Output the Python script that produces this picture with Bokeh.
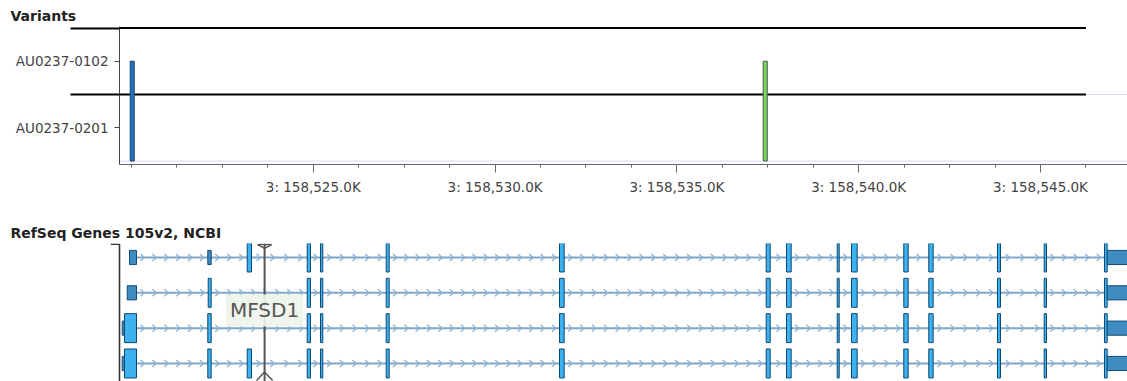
import numpy as np
import pandas as pd
from bokeh.plotting import figure
from bokeh.layouts import column
from bokeh.models import Range1d, FixedTicker, CustomJSTickFormatter, ColumnDataSource
from bokeh.core.properties import value
from bokeh.embed import file_html
from bokeh.resources import INLINE

# ---------------- data ----------------
CHROM = "3"
VIEW_START = 158519670
VIEW_END = 158547393
TRACK_END = 158546250
MAJOR_STEP, MINOR_STEP = 5000, 1250

samples = ["AU0237-0102", "AU0237-0201"]          # top to bottom
variant_pos = [158520020, 158537430]
variant_fill = ["#1f72c2", "#74dc5e"]
variant_line = ["#1c3f63", "#4a544a"]

gene_name = "MFSD1"
gene_label_pos = 158523660

# exons common to every transcript
shared_exon_starts = [158524832, 158525198, 158527005, 158531771, 158537456, 158538014, 158539409,
                      158539802, 158541240, 158541928, 158543817, 158545102, 158546760]
shared_exon_ends = [158524923, 158525261, 158527087, 158531900, 158537566, 158538143, 158539464,
                    158539958, 158541361, 158542048, 158543900, 158545165, 158546834]
utr3_start, utr3_end = 158546834, 158547900

# transcript-specific 5' blocks
tx_5p_starts = [[158519945, 158522098, 158523182],
                [158519882, 158522110],
                [158519744, 158519807, 158522098],
                [158519744, 158519807, 158522098, 158523182]]
tx_5p_ends = [[158520138, 158522192, 158523300],
              [158520138, 158522192],
              [158519807, 158520138, 158522192],
              [158519807, 158520138, 158522192, 158523300]]
tx_5p_kinds = [["utr", "utr", "cds"],
               ["utr", "cds"],
               ["utr", "cds", "cds"],
               ["utr", "cds", "cds", "cds"]]

# ---------------- styling ----------------
FONT = "DejaVu Sans"
FRAME_LEFT = 119
FRAME_W = 1127 - FRAME_LEFT
BP_PER_PX = (VIEW_END - VIEW_START) / FRAME_W
CDS_H, UTR_H = 0.82, 0.40
KIND_FILL = {"cds": "#3cb2f0", "utr": "#3f8cc2"}
KIND_LINE = {"cds": "#0e4670", "utr": "#174a72"}
CHEVRON_STEP = 11.3 * BP_PER_PX
CHEVRON_HW = 2.0 * BP_PER_PX
CHEVRON_HH = 0.10
SEP_REACH = 49          # how far the row separators run left of the axis, px
LABEL_TICK = 5

xr = Range1d(VIEW_START, VIEW_END)

# ================= variants track =================
n = len(samples)
pA = figure(width=1127, height=205, x_range=xr, y_range=Range1d(-0.0526, n + 0.0226),
            output_backend="svg", toolbar_location=None, title="Variants",
            min_border_left=FRAME_LEFT, min_border_right=0, min_border_top=26, min_border_bottom=41)
pA.frame_align = False
pA.outline_line_color = None
pA.grid.visible = False
pA.title.text_font = FONT
pA.title.text_font_size = "14px"
pA.title.text_font_style = "bold"
pA.title.text_color = "#222222"
pA.title.offset = -109
pA.title.standoff = 5

# faint frame lines
pA.segment(x0=[VIEW_START, TRACK_END], x1=[VIEW_END, VIEW_END], y0=[0, 1], y1=[0, 1],
           line_color="#dcdcf4", line_width=1)

# row separators
sep_y = [float(n - i) for i in range(n)]
pA.segment(x0=[VIEW_START] * n, x1=[TRACK_END] * n, y0=sep_y, y1=sep_y,
           line_color="black", line_width=2)

# variant bars spanning from the top sample's row down through the rest
vsrc = ColumnDataSource(dict(x=variant_pos, y=[(n - 0.5) / 2] * len(variant_pos),
                             h=[n - 0.5] * len(variant_pos), fill=variant_fill, line=variant_line))
pA.rect(x="x", y="y", width=4, width_units="screen", height="h", source=vsrc,
        fill_color="fill", line_color="line", line_width=1)

# sample labels on row centres; long minor ticks carry the separators past the axis
pA.yaxis.ticker = FixedTicker(ticks=[n - 0.5 - i for i in range(n)], minor_ticks=sep_y)
pA.yaxis.major_label_overrides = {n - 0.5 - i: s for i, s in enumerate(samples)}
pA.yaxis.minor_tick_out = SEP_REACH
pA.yaxis.minor_tick_in = 0
pA.yaxis.minor_tick_line_color = "black"
pA.yaxis.minor_tick_line_width = 2
pA.yaxis.major_tick_out = LABEL_TICK
pA.yaxis.major_tick_in = 0
pA.yaxis.axis_line_color = "#444444"
pA.yaxis.major_tick_line_color = "#444444"
pA.yaxis.major_label_text_font = FONT
pA.yaxis.major_label_text_font_size = "13.5px"
pA.yaxis.major_label_text_color = "#444444"
pA.yaxis.major_label_standoff = -(SEP_REACH - LABEL_TICK - 6)

# labelled ticks every 5 kb (the leftmost one stays unlabelled), minor every 1.25 kb
first_major = int(np.ceil(VIEW_START / MAJOR_STEP) * MAJOR_STEP)
labelled = list(range(first_major + MAJOR_STEP, VIEW_END, MAJOR_STEP))
minor = list(range(first_major, VIEW_END, MINOR_STEP))
pA.xaxis.ticker = FixedTicker(ticks=labelled, minor_ticks=minor)
pA.xaxis.formatter = CustomJSTickFormatter(args=dict(chrom=CHROM), code="""
    const k = tick / 1000;
    return chrom + ": " + k.toLocaleString("en-US", {minimumFractionDigits: 1, maximumFractionDigits: 1}) + "K";
""")
pA.xaxis.major_tick_out = 8
pA.xaxis.major_tick_in = 0
pA.xaxis.minor_tick_out = 3
pA.xaxis.minor_tick_in = 0
pA.xaxis.axis_line_color = "#666666"
pA.xaxis.major_tick_line_color = "#666666"
pA.xaxis.minor_tick_line_color = "#666666"
pA.xaxis.major_label_text_font = FONT
pA.xaxis.major_label_text_font_size = "13.5px"
pA.xaxis.major_label_text_color = "#444444"
pA.xaxis.major_label_standoff = 6

# ================= gene track =================
BRACKET_PX = 9
xrB = Range1d(VIEW_START - BRACKET_PX * BP_PER_PX, VIEW_END)
ROW_TOP, ROW_BOTTOM = -0.396, 3.51
pB = figure(width=1127, height=176, x_range=xrB, y_range=Range1d(ROW_BOTTOM, ROW_TOP),
            output_backend="svg", toolbar_location=None, title="RefSeq Genes 105v2, NCBI",
            x_axis_location=None, y_axis_location=None,
            min_border_left=FRAME_LEFT - BRACKET_PX, min_border_right=0,
            min_border_top=38, min_border_bottom=0)
pB.frame_align = False
pB.outline_line_color = None
pB.grid.visible = False
pB.title.text_font = FONT
pB.title.text_font_size = "14px"
pB.title.text_font_style = "bold"
pB.title.text_color = "#222222"
pB.title.offset = -(FRAME_LEFT - BRACKET_PX - 10)
pB.title.standoff = 6

# group bracket on the left of the transcripts
bx0 = xrB.start
pB.multi_line(xs=[[bx0, VIEW_START, VIEW_START]],
              ys=[[ROW_TOP + 0.02, ROW_TOP + 0.02, ROW_BOTTOM]],
              line_color="#333333", line_width=1.6)

blocks = []
for row in range(len(tx_5p_starts)):
    starts = tx_5p_starts[row] + shared_exon_starts + [utr3_start]
    ends = tx_5p_ends[row] + shared_exon_ends + [utr3_end]
    kinds = tx_5p_kinds[row] + ["cds"] * len(shared_exon_starts) + ["utr"]
    for s, e, k in zip(starts, ends, kinds):
        blocks.append(dict(row=row, start=s, end=e, kind=k))
bdf = pd.DataFrame(blocks)
bdf["x"] = (bdf.start + bdf.end) / 2
bdf["w"] = bdf.end - bdf.start
bdf["h"] = np.where(bdf.kind == "cds", CDS_H, UTR_H)
bdf["fill"] = bdf.kind.map(KIND_FILL)
bdf["line"] = bdf.kind.map(KIND_LINE)

# intron backbone and strand chevrons
bb_x0, bb_x1, bb_y = [], [], []
chev_xs, chev_ys = [], []
for row, g in bdf.groupby("row"):
    g = g.sort_values("start")
    bb_x0.append(g.start.min()); bb_x1.append(g.end.max()); bb_y.append(row)
    s = g.start.to_numpy(); e = g.end.to_numpy()
    for a, b in zip(e[:-1], s[1:]):
        gap = b - a
        if gap <= 0:
            continue
        k = max(1, int(gap // CHEVRON_STEP))
        for j in range(k):
            c = a + gap * (j + 0.5) / k
            chev_xs.append([c - CHEVRON_HW, c + CHEVRON_HW, c - CHEVRON_HW])
            chev_ys.append([row - CHEVRON_HH, row, row + CHEVRON_HH])

pB.segment(x0=bb_x0, x1=bb_x1, y0=bb_y, y1=bb_y, line_color="#7ea7c9", line_width=2)
pB.multi_line(xs=chev_xs, ys=chev_ys, line_color="#8fb3d0", line_width=1.3)
pB.rect(x="x", y="row", width="w", height="h", source=ColumnDataSource(bdf),
        fill_color="fill", line_color="line", line_width=1)

# gene name marker
cap = 7 * BP_PER_PX
top_y = ROW_TOP + 0.03
bot_y = ROW_BOTTOM - 0.03
pB.segment(x0=[gene_label_pos], x1=[gene_label_pos], y0=[ROW_TOP], y1=[ROW_BOTTOM],
           line_color="#555555", line_width=2)
pB.multi_line(xs=[[gene_label_pos - cap, gene_label_pos + cap],
                  [gene_label_pos - cap, gene_label_pos, gene_label_pos + cap],
                  [gene_label_pos - 8 * BP_PER_PX, gene_label_pos, gene_label_pos + 8 * BP_PER_PX]],
              ys=[[top_y, top_y],
                  [top_y, top_y + 0.11, top_y],
                  [bot_y, bot_y - 0.24, bot_y]],
              line_color="#555555", line_width=1.5)
pB.text(x=[gene_label_pos], y=[1.5], text=[gene_name], text_align="center",
        text_baseline="middle", text_font=value(FONT), text_font_size="20px",
        text_color="#555555", background_fill_color="#eef3ea", background_fill_alpha=0.92,
        padding=4)

layout = column(pA, pB, spacing=0)
open("out.html", "w").write(file_html(layout, INLINE))
